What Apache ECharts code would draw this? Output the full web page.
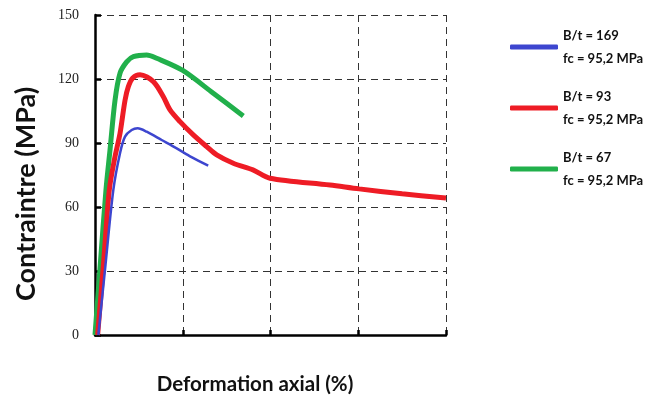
<!DOCTYPE html>
<html><head><meta charset="utf-8">
<script src="https://cdn.jsdelivr.net/npm/echarts@6/dist/echarts.min.js"></script>
<style>html,body{margin:0;padding:0;background:#fff}#c{width:659px;height:399px}</style>
</head><body><div id="c"></div>
<script>
const seriesNames = ['B/t = 169\nfc = 95,2 MPa', 'B/t = 93\nfc = 95,2 MPa', 'B/t = 67\nfc = 95,2 MPa'];
const blueX = [0.038, 0.12, 0.209, 0.285, 0.342, 0.418, 0.486, 0.589, 0.76, 0.931, 1.1, 1.29];
const blueY = [0, 33, 68, 85.2, 93, 96.1, 96.9, 95.3, 91.4, 87.5, 83.4, 79.4];
const redX = [0.03, 0.1, 0.163, 0.225, 0.285, 0.342, 0.38, 0.43, 0.513, 0.665, 0.779, 0.855, 0.969, 1.12, 1.273, 1.387, 1.576, 1.8, 1.994, 2.678, 3.01, 3.5, 4.0];
const redY = [0, 35, 68, 83, 94.5, 110, 116.4, 120.5, 122, 118.8, 111.7, 105.5, 100, 93.8, 88.3, 84.4, 80.5, 77.4, 73.5, 70.3, 68.5, 66.2, 64.2];
const greenX = [0, 0.06, 0.125, 0.171, 0.228, 0.285, 0.361, 0.437, 0.589, 0.703, 1.0, 1.348, 1.69];
const greenY = [0, 33, 68, 86.7, 110, 122.7, 128, 130.5, 131.3, 129.7, 124, 113.3, 102.7];
const yTicks = [0, 30, 60, 90, 120, 150];
const colors = ['#3d46cf', '#ee1c25', '#21b04b'];

const zip = (xs, ys) => xs.map((x, i) => [x, ys[i]]);
const chart = echarts.init(document.getElementById('c'), null, {renderer: 'canvas'});
chart.setOption({
  animation: false,
  grid: {left: 95, right: 213, top: 15, bottom: 64},
  legend: {
    orient: 'vertical', left: 505, top: 19, itemGap: 15,
    itemWidth: 48, itemHeight: 5, icon: 'roundRect',
    textStyle: {fontFamily: 'Lato', fontWeight: 'bold', fontSize: 13, color: '#111', lineHeight: 23},
    data: seriesNames
  },
  xAxis: {
    type: 'value', min: 0, max: 4, interval: 1,
    axisLine: {lineStyle: {color: '#000', width: 2.5}},
    axisTick: {inside: true, length: 5, lineStyle: {color: '#000', width: 2.5}},
    axisLabel: {show: false},
    splitLine: {show: true, lineStyle: {color: '#333', type: [7, 5], width: 1}}
  },
  yAxis: {
    type: 'value', min: 0, max: 150, interval: 30,
    axisLine: {show: true, lineStyle: {color: '#000', width: 2.5}},
    axisTick: {show: true, inside: true, length: 6, lineStyle: {color: '#000', width: 2.5}},
    axisLabel: {fontFamily: 'Liberation Serif', fontSize: 14, color: '#222', margin: 16,
      formatter: v => yTicks.includes(v) ? String(v) : ''},
    splitLine: {show: true, lineStyle: {color: '#333', type: [7, 5], width: 1}}
  },
  graphic: [{
    type: 'text', x: 255, y: 384,
    style: {text: 'Deformation axial (%)', fontFamily: 'Lato', fontWeight: 'bold', fontSize: 20.5, fill: '#111',
      align: 'center', verticalAlign: 'middle'}
  }, {
    type: 'text', x: 26, y: 194, rotation: Math.PI / 2,
    style: {text: 'Contraintre (MPa)', fontFamily: 'Lato', fontWeight: 'bold', fontSize: 27, fill: '#111',
      align: 'center', verticalAlign: 'middle'}
  }],
  series: [
    {name: seriesNames[0], type: 'line', data: zip(blueX, blueY), smooth: 0.3, showSymbol: false,
      lineStyle: {color: colors[0], width: 2.5}, itemStyle: {color: colors[0]}, z: 3},
    {name: seriesNames[1], type: 'line', data: zip(redX, redY), smooth: 0.3, showSymbol: false,
      lineStyle: {color: colors[1], width: 5}, itemStyle: {color: colors[1]}, z: 2},
    {name: seriesNames[2], type: 'line', data: zip(greenX, greenY), smooth: 0.3, showSymbol: false,
      lineStyle: {color: colors[2], width: 5}, itemStyle: {color: colors[2]}, z: 1}
  ]
});
</script></body></html>
